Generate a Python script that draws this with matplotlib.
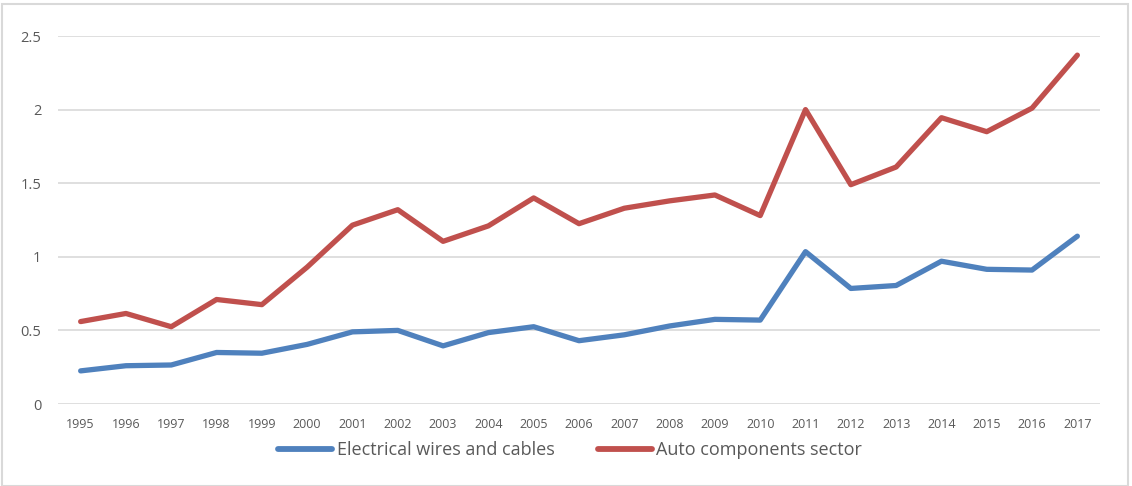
import matplotlib
matplotlib.use("Agg")
import matplotlib.pyplot as plt
from matplotlib.patches import Rectangle

years = [str(y) for y in range(1995, 2018)]
wires = [0.225, 0.26, 0.265, 0.35, 0.345, 0.405, 0.49, 0.50, 0.395, 0.485, 0.525, 0.43,
         0.47, 0.53, 0.575, 0.57, 1.035, 0.785, 0.805, 0.97, 0.915, 0.91, 1.14]
auto = [0.56, 0.615, 0.525, 0.71, 0.675, 0.93, 1.215, 1.32, 1.105, 1.21, 1.40, 1.225,
        1.33, 1.38, 1.42, 1.28, 2.0, 1.49, 1.61, 1.945, 1.85, 2.01, 2.37]
yticks = [0, 0.5, 1, 1.5, 2, 2.5]
ytick_labels = ["0", "0.5", "1", "1.5", "2", "2.5"]

plt.rcParams['font.family'] = ['Open Sans', 'DejaVu Sans']
texto = '#595959'

fig = plt.figure(figsize=(11.32, 4.86), dpi=100)
ax = fig.add_axes([58 / 1132, 1 - 404 / 486, 1042 / 1132, 368 / 486])

x = list(range(len(years)))
ax.plot(x, wires, color='#4F81BD', lw=3.8, solid_capstyle='round', solid_joinstyle='round',
        label='Electrical wires and cables')
ax.plot(x, auto, color='#C0504D', lw=3.8, solid_capstyle='round', solid_joinstyle='round',
        label='Auto components sector')

ax.set_xlim(-0.5, len(years) - 0.5)
ax.set_ylim(0, 2.5)
ax.set_yticks(yticks)
ax.set_yticklabels(ytick_labels)
ax.set_xticks(x)
ax.set_xticklabels(years)
ax.tick_params(axis='both', length=0, colors=texto)
ax.tick_params(axis='y', labelsize=10.5, pad=12)
ax.tick_params(axis='x', labelsize=9, pad=10)
ax.grid(axis='y', color='#D9D9D9', lw=1.2)
ax.set_axisbelow(True)
for s in ax.spines.values():
    s.set_visible(False)

leg = fig.legend(loc='center', bbox_to_anchor=(570 / 1132, 1 - 450 / 486), ncol=2,
                 frameon=False, fontsize=13, handlelength=3.0, columnspacing=2.4,
                 handletextpad=0.25)
for t in leg.get_texts():
    t.set_color(texto)
for h in leg.legend_handles:
    h.set_linewidth(4.2)

# marco gris del grafico
fig.patches.append(Rectangle((2 / 1132, 0), 1126 / 1132, 1 - 4 / 486, transform=fig.transFigure,
                             fill=False, edgecolor='#D9D9D9', lw=1.5))

fig.savefig("out.png", dpi=100)
